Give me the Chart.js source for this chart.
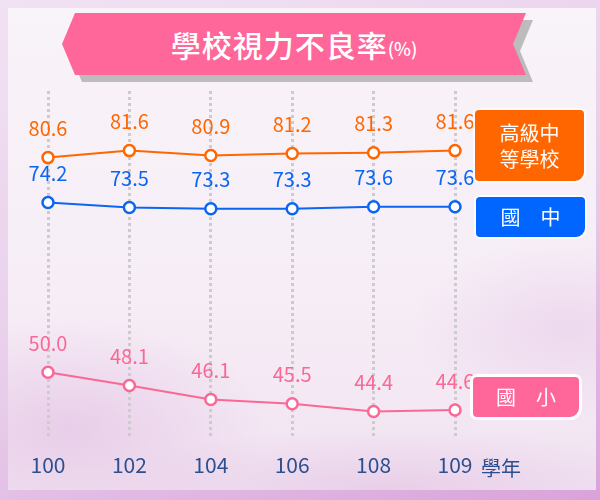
<!DOCTYPE html>
<html>
<head>
<meta charset="utf-8">
<script src="https://cdn.jsdelivr.net/npm/chart.js@4"></script>
<style>
    body { margin: 0; }
    #wrap {
        position: relative; width: 600px; height: 500px; overflow: hidden;
        background: linear-gradient(160deg, #f1e2f3 0%, #e8cdea 55%, #d9a3da 100%);
        font-family: "Noto Sans CJK TC", "Noto Sans", sans-serif;
    }
    #panel {
        position: absolute; left: 8px; top: 8px; width: 588px; height: 482px;
        background:
            radial-gradient(ellipse 200px 110px at 60px 420px, rgba(214,160,214,0.35), rgba(214,160,214,0)),
            radial-gradient(ellipse 160px 90px at 560px 320px, rgba(214,160,214,0.25), rgba(214,160,214,0)),
            radial-gradient(ellipse 300px 60px at 380px 480px, rgba(214,160,214,0.3), rgba(214,160,214,0)),
            linear-gradient(180deg, #f9f4f9 0%, #f6edf6 60%, #f1e3f1 100%);
    }
    canvas { position: absolute; left: 0; top: 0; }
    .banner {
        position: absolute; width: 464px; height: 62px;
        clip-path: polygon(13px 0, 464px 0, 451px 31px, 464px 62px, 13px 62px, 0 31px);
    }
    #shadow { left: 69px; top: 20px; background: #bcbcbc; }
    #banner {
        left: 62px; top: 13px; background: #ff6699; color: #fff;
        display: flex; align-items: center; justify-content: center;
        font-size: 30px; font-weight: 500; letter-spacing: 1px;
    }
    #banner small { font-size: 18px; margin-top: 8px; letter-spacing: 0; }
    .key {
        position: absolute; color: #fff; font-size: 20px; text-align: center;
        border-radius: 4px 4px 9px 4px; box-shadow: 0 0 0 2px rgba(255,255,255,0.8);
        display: flex; align-items: center; justify-content: center; line-height: 1.3;
    }
    #keySenior { left: 475px; top: 110px; width: 109px; height: 71px; background: #ff6600; }
    #keyJunior { left: 476px; top: 197px; width: 109px; height: 40px; background: #0066ff; }
    #keyPrimary { left: 473px; top: 377px; width: 106px; height: 40px; background: #ff6699;
        box-shadow: 0 0 0 3px #fff; }
    #unit { position: absolute; left: 481px; top: 453px; font-size: 20px; color: #2b4f8f; }
</style>
</head>
<body>
<div id="wrap">
    <div id="panel"></div>
    <canvas id="visionChart" width="600" height="500"></canvas>
    <div id="shadow" class="banner"></div>
    <div id="banner" class="banner">學校視力不良率<small>(%)</small></div>
    <div id="keySenior" class="key">高級中<br>等學校</div>
    <div id="keyJunior" class="key">國　中</div>
    <div id="keyPrimary" class="key">國　小</div>
    <div id="unit">學年</div>
</div>
<script>
// school years on the x axis
const years = ['100', '102', '104', '106', '108', '109'];

// poor eyesight rate (%) per school level
const seniorHigh = [80.6, 81.6, 80.9, 81.2, 81.3, 81.6];
const juniorHigh = [74.2, 73.5, 73.3, 73.3, 73.6, 73.6];
const primary = [50.0, 48.1, 46.1, 45.5, 44.4, 44.6];

const seriesNames = ['高級中等學校', '國中', '國小'];

// draws each value above its point
const valueLabels = {
    id: 'valueLabels',
    afterDatasetsDraw(chart) {
        const ctx = chart.ctx;
        ctx.save();
        ctx.font = '20px "Noto Sans CJK TC", "Noto Sans", sans-serif';
        ctx.textAlign = 'center';
        ctx.textBaseline = 'middle';
        chart.data.datasets.forEach((ds, i) => {
            ctx.fillStyle = ds.borderColor;
            chart.getDatasetMeta(i).data.forEach((pt, j) => {
                ctx.fillText(ds.data[j].toFixed(1), pt.x, pt.y - 29);
            });
        });
        ctx.restore();
    }
};

function makeSet(label, data, color) {
    return {
        label: label,
        data: data,
        borderColor: color,
        backgroundColor: '#ffffff',
        borderWidth: 2,
        pointRadius: 5.5,
        pointBorderWidth: 2.5,
        pointBackgroundColor: '#ffffff',
        tension: 0
    };
}

const ctx = document.getElementById('visionChart').getContext('2d');
new Chart(ctx, {
    type: 'line',
    data: {
        labels: years,
        datasets: [
            makeSet(seriesNames[0], seniorHigh, '#ff6600'),
            makeSet(seriesNames[1], juniorHigh, '#0a66f2'),
            makeSet(seriesNames[2], primary, '#fa6895')
        ]
    },
    options: {
        responsive: false,
        animation: false,
        layout: {
            padding: { top: 91, left: 48, right: 145, bottom: 8 }
        },
        scales: {
            x: {
                offset: false,
                border: { display: false, dash: [3, 3] },
                grid: {
                    color: '#cccccc',
                    lineWidth: 3,
                    drawTicks: false
                },
                ticks: {
                    padding: 14,
                    color: '#2b4f8f',
                    font: { size: 21, family: '"Noto Sans CJK TC", "Noto Sans", sans-serif' }
                }
            },
            y: {
                display: false,
                min: 40.5,
                max: 90.1
            }
        },
        plugins: {
            legend: { display: false },
            tooltip: { enabled: false }
        }
    },
    plugins: [valueLabels]
});
</script>
</body>
</html>
